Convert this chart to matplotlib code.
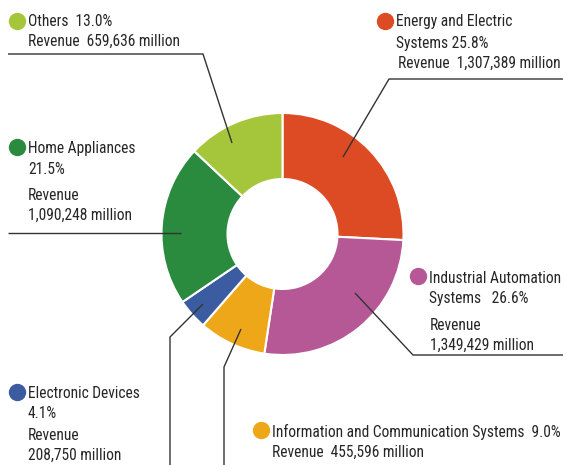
import matplotlib
matplotlib.use("Agg")
import matplotlib.pyplot as plt
from matplotlib import font_manager

# segment data
segments = ['Energy and Electric Systems', 'Industrial Automation Systems',
            'Information and Communication Systems', 'Electronic Devices',
            'Home Appliances', 'Others']
shares = [25.8, 26.6, 9.0, 4.1, 21.5, 13.0]
revenue = [1307389, 1349429, 455596, 208750, 1090248, 659636]
colors = ['#DC4B23', '#B65896', '#EDA718', '#3C5CA2', '#2A8A3E', '#A5C63B']

# pick a narrow font if there is one
names = {f.name for f in font_manager.fontManager.ttflist}
family = 'DejaVu Sans'
for cand in ['Roboto Condensed', 'Liberation Sans Narrow', 'Roboto', 'Liberation Sans']:
    if cand in names:
        family = cand
        break
plt.rcParams['font.family'] = family

W, H = 566, 465
fig = plt.figure(figsize=(W / 100, H / 100), dpi=100)
ax = fig.add_axes([0, 0, 1, 1])

def py(y):
    # pixel row -> data y
    return H - y

ax.pie(shares, colors=colors, startangle=90, counterclock=False,
       center=(282.5, py(234)), radius=121, frame=True,
       wedgeprops=dict(width=66, edgecolor='white', linewidth=1.5))
ax.set_xlim(0, W)
ax.set_ylim(0, H)
ax.axis('off')

lc = '#333333'
tc = '#262626'
fs = 11.2

def line(xs, ys):
    ax.plot(xs, [py(v) for v in ys], color=lc, lw=1.0, solid_capstyle='butt')

# leader lines
line([232, 203, 8], [143, 54, 54])          # others
line([343, 389, 563], [157, 79, 79])        # energy
line([181, 8], [233, 233])                  # home
line([355, 413, 563], [293, 355, 355])      # industrial
line([203, 170, 170], [304, 337, 465])      # electronic
line([241, 224, 224], [329, 367, 465])      # info

def fmt(v):
    return '{:,}'.format(v)

def dot(x, y, c):
    ax.plot(x, py(y), 'o', ms=12.5, color=c, mec='none')

def txt(x, y, s):
    ax.text(x, py(y), s, fontsize=fs, color=tc, va='baseline', ha='left')

# Energy and Electric Systems
dot(384.5, 21, colors[0])
txt(396, 26.5, 'Energy and Electric')
txt(396, 48, 'Systems {}%'.format(shares[0]))
txt(398, 68, 'Revenue  {} million'.format(fmt(revenue[0])))

# Industrial Automation Systems
dot(417.5, 276, colors[1])
txt(429, 283, 'Industrial Automation')
txt(429, 303.5, 'Systems   {}%'.format(shares[1]))
txt(430, 330, 'Revenue')
txt(430, 350, '{} million'.format(fmt(revenue[1])))

# Information and Communication Systems
dot(260.5, 429.5, colors[2])
txt(272, 436.5, '{}  {}%'.format(segments[2], shares[2]))
txt(272, 456.5, 'Revenue  {} million'.format(fmt(revenue[2])))

# Electronic Devices
dot(16.7, 391.5, colors[3])
txt(28, 398.5, segments[3])
txt(28, 418.5, '{}%'.format(shares[3]))
txt(28, 440, 'Revenue')
txt(28, 460, '{} million'.format(fmt(revenue[3])))

# Home Appliances
dot(16.7, 147.5, colors[4])
txt(28, 153.5, segments[4])
txt(28, 174, '{}%'.format(shares[4]))
txt(28, 199.5, 'Revenue')
txt(28, 220, '{} million'.format(fmt(revenue[4])))

# Others
dot(16.7, 21, colors[5])
txt(28, 26, '{}  {}%'.format(segments[5], shares[5]))
txt(28, 45.5, 'Revenue  {} million'.format(fmt(revenue[5])))

fig.savefig('out.png', dpi=100)
